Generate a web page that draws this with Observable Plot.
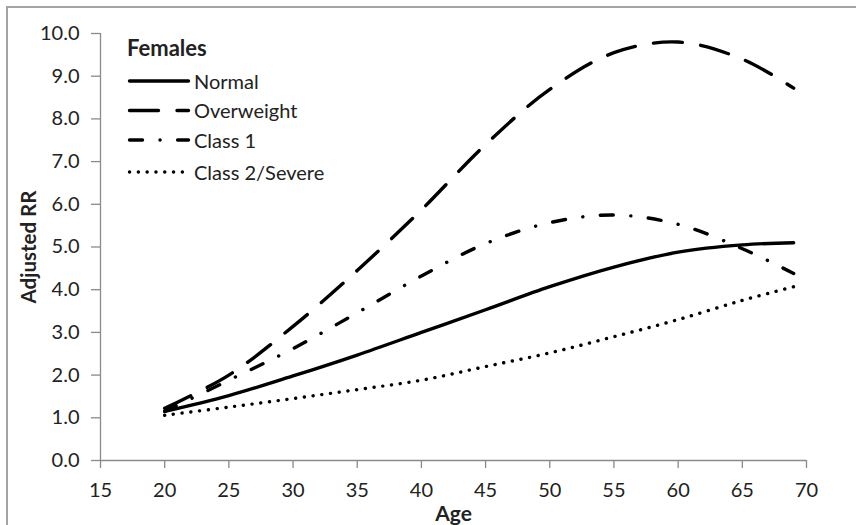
<!DOCTYPE html>
<html>
<head>
<meta charset="utf-8">
<script src="https://cdn.jsdelivr.net/npm/d3@7"></script>
<script src="https://cdn.jsdelivr.net/npm/@observablehq/plot@0.6"></script>
<style>
  html, body { margin: 0; padding: 0; background: #fff; overflow: hidden; }
  #wrap { position: relative; width: 856px; height: 525px; overflow: hidden; font-family: Lato, "Open Sans", sans-serif; }
  #frame { position: absolute; left: 6px; top: 6px; width: 900px; height: 600px; border: 2px solid #a4a4a4; box-sizing: border-box; }
  #chart { position: absolute; left: 0; top: 0; }
  #legend { position: absolute; left: 0; top: 0; }
</style>
</head>
<body>
<div id="wrap">
  <div id="frame"></div>
  <div id="chart"></div>
  <svg id="legend" width="856" height="525"></svg>
</div>
<script>
// ---- data ----
const ages       = [20, 25, 30, 35, 40, 45, 50, 55, 60, 65, 69];
const normal     = [1.15, 1.52, 1.98, 2.47, 3.00, 3.53, 4.07, 4.53, 4.88, 5.05, 5.10];
const overweight = [1.22, 2.00, 3.14, 4.45, 5.87, 7.40, 8.69, 9.55, 9.80, 9.40, 8.72];
const class1     = [1.15, 1.88, 2.62, 3.46, 4.32, 5.08, 5.57, 5.75, 5.53, 4.96, 4.38];
const class2     = [1.06, 1.25, 1.45, 1.66, 1.88, 2.20, 2.52, 2.90, 3.30, 3.75, 4.07];
const seriesNames = ["Normal", "Overweight", "Class 1", "Class 2/Severe"];
const xTicks = [15, 20, 25, 30, 35, 40, 45, 50, 55, 60, 65, 70];
const yTicks = [0, 1, 2, 3, 4, 5, 6, 7, 8, 9, 10];
const legendTitle = "Females";

const seriesValues = [normal, overweight, class1, class2];
const rows = [];
seriesNames.forEach((name, i) => {
  ages.forEach((a, j) => rows.push({series: name, age: a, rr: seriesValues[i][j]}));
});

// styles
const styles = {
  "Normal":         {dash: null,                 width: 3.4, cap: "round"},
  "Overweight":     {dash: "29,18.5",            width: 3.4, cap: "round"},
  "Class 1":        {dash: "13,17.5,0.1,17.5",   width: 3.4, cap: "round"},
  "Class 2/Severe": {dash: "0.1,8.7",            width: 3.4, cap: "round"}
};

const axisColor = "#8a8a8a";
const textColor = "#222";

const plot = Plot.plot({
  width: 856,
  height: 525,
  marginLeft: 100,
  marginRight: 50,
  marginTop: 33,
  marginBottom: 65,
  style: {fontFamily: "Lato, 'Open Sans', sans-serif", fontSize: "20px", color: textColor, background: "transparent"},
  x: {domain: [15, 70]},
  y: {domain: [0, 10]},
  marks: [
    Plot.ruleY([0], {stroke: axisColor, strokeWidth: 1.3}),
    Plot.ruleX([15], {stroke: axisColor, strokeWidth: 1.3}),
    Plot.axisX({ticks: xTicks, tickSize: 8, tickPadding: 14, stroke: axisColor, strokeWidth: 1.3, fill: textColor,
                label: "Age", labelAnchor: "center", labelArrow: "none", labelOffset: 60, tickFormat: d => String(d)}),
    Plot.axisY({ticks: yTicks, tickSize: 9, tickPadding: 12, stroke: axisColor, strokeWidth: 1.3, fill: textColor,
                label: null, tickFormat: d3.format(".1f")}),
    ...seriesNames.map(name => Plot.line(rows.filter(r => r.series === name), {
      x: "age", y: "rr", curve: "catmull-rom",
      stroke: "#000", strokeWidth: styles[name].width,
      strokeDasharray: styles[name].dash, strokeLinecap: styles[name].cap
    }))
  ]
});
document.getElementById("chart").appendChild(plot);

// axis labels styling
d3.select(plot).selectAll("[aria-label='x-axis label'] text")
  .style("font-weight", "bold").style("font-size", "21px");

// Y axis title (rotated)
const lg = d3.select("#legend");
lg.append("text")
  .attr("transform", "translate(36,247) rotate(-90)")
  .attr("text-anchor", "middle")
  .style("font-family", "Lato, 'Open Sans', sans-serif")
  .style("font-weight", "bold").style("font-size", "20.5px").attr("fill", textColor)
  .text("Adjusted RR");

// Legend
lg.append("text").attr("x", 127).attr("y", 56)
  .style("font-family", "Lato, 'Open Sans', sans-serif")
  .style("font-weight", "bold").style("font-size", "22px").attr("fill", textColor)
  .text(legendTitle);
const rowY = [81, 110.5, 140, 172];
seriesNames.forEach((name, i) => {
  const s = styles[name];
  lg.append("line").attr("x1", 129.5).attr("x2", 188.5).attr("y1", rowY[i]).attr("y2", rowY[i])
    .attr("stroke", "#000").attr("stroke-width", s.width)
    .attr("stroke-linecap", s.cap).attr("stroke-dasharray", s.dash);
  lg.append("text").attr("x", 194).attr("y", rowY[i] + 7.5)
    .style("font-family", "Lato, 'Open Sans', sans-serif")
    .style("font-size", "20px").attr("fill", textColor)
    .text(name);
});
</script>
</body>
</html>
